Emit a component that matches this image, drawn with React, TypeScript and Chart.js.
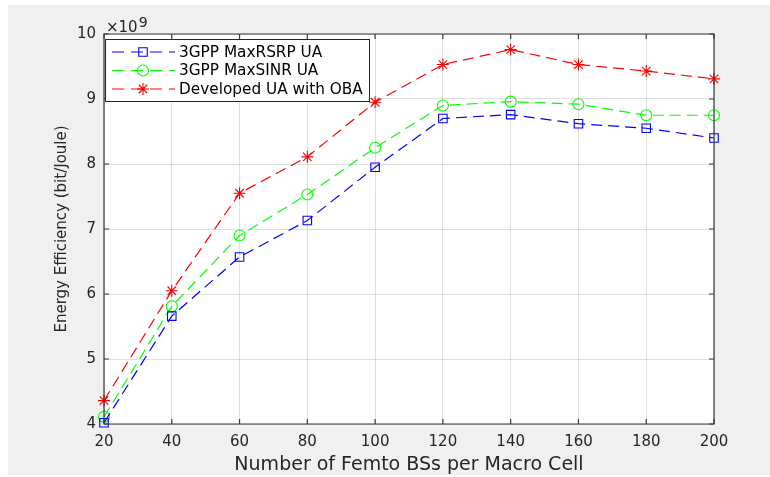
import React, { useEffect, useRef } from 'react';
import { Chart, registerables } from 'chart.js';

Chart.register(...registerables);

// ---- data (values in units of 10^9 bit/Joule) ----
const femtoBSs = [20, 40, 60, 80, 100, 120, 140, 160, 180, 200];
const maxRSRP = [4.02, 5.66, 6.57, 7.13, 7.95, 8.70, 8.76, 8.62, 8.55, 8.40];
const maxSINR = [4.11, 5.81, 6.90, 7.53, 8.25, 8.90, 8.96, 8.92, 8.75, 8.75];
const developedOBA = [4.36, 6.05, 7.55, 8.11, 8.95, 9.53, 9.76, 9.53, 9.43, 9.31];
const seriesLabels = ['3GPP MaxRSRP UA', '3GPP MaxSINR UA', 'Developed UA with OBA'];
const xTitle = 'Number of Femto BSs per Macro Cell';
const yTitle = 'Energy Efficiency (bit/Joule)';
const exponentBase = '\u00d710';
const exponentPower = '9';

const FONT = '"DejaVu Sans", "Liberation Sans", sans-serif';
const TEXT = '#262626';

function drawMarker(ctx: CanvasRenderingContext2D, style: string, x: number, y: number, r: number, color: string) {
  ctx.save();
  ctx.setLineDash([]);
  ctx.strokeStyle = color;
  ctx.lineWidth = 1.1;
  ctx.beginPath();
  if (style === 'rect') {
    const s = Math.SQRT1_2 * r;
    ctx.rect(x - s, y - s, 2 * s, 2 * s);
  } else if (style === 'circle') {
    ctx.arc(x, y, r, 0, Math.PI * 2);
  } else {
    for (let i = 0; i < 4; i++) {
      const a = (i * Math.PI) / 4;
      ctx.moveTo(x - Math.cos(a) * r, y - Math.sin(a) * r);
      ctx.lineTo(x + Math.cos(a) * r, y + Math.sin(a) * r);
    }
  }
  ctx.stroke();
  ctx.restore();
}

const bgPlugin = {
  id: 'bg',
  beforeDraw(chart: any) {
    const { ctx, chartArea } = chart;
    ctx.save();
    ctx.fillStyle = '#ffffff';
    ctx.fillRect(0, 0, chart.width, chart.height);
    ctx.fillStyle = '#f0f0f0';
    ctx.fillRect(8, 5, 762, 470);
    ctx.fillStyle = '#ffffff';
    ctx.fillRect(chartArea.left, chartArea.top, chartArea.right - chartArea.left, chartArea.bottom - chartArea.top);
    ctx.restore();
  },
};

const framePlugin = {
  id: 'frame',
  afterDraw(chart: any) {
    const { ctx, chartArea } = chart;
    const { left, right, top, bottom } = chartArea;
    const xs = chart.scales.x;
    const ys = chart.scales.y;
    ctx.save();
    ctx.strokeStyle = '#3a3a3a';
    ctx.lineWidth = 1.2;
    ctx.setLineDash([]);
    ctx.beginPath();
    ctx.rect(left, top, right - left, bottom - top);
    ctx.stroke();
    const tl = 5;
    ctx.beginPath();
    xs.ticks.forEach((t: any) => {
      const px = xs.getPixelForValue(t.value);
      ctx.moveTo(px, bottom);
      ctx.lineTo(px, bottom - tl);
      ctx.moveTo(px, top);
      ctx.lineTo(px, top + tl);
    });
    ys.ticks.forEach((t: any) => {
      const py = ys.getPixelForValue(t.value);
      ctx.moveTo(left, py);
      ctx.lineTo(left + tl, py);
      ctx.moveTo(right, py);
      ctx.lineTo(right - tl, py);
    });
    ctx.stroke();

    // exponent label
    ctx.fillStyle = TEXT;
    ctx.textBaseline = 'alphabetic';
    ctx.textAlign = 'left';
    ctx.font = `15px ${FONT}`;
    ctx.fillText(exponentBase, left + 2, top - 2);
    const w = ctx.measureText(exponentBase).width;
    ctx.font = `14px ${FONT}`;
    ctx.fillText(exponentPower, left + 3 + w, top - 7);
    ctx.restore();
  },
};

const legendPlugin = {
  id: 'insideLegend',
  afterDraw(chart: any) {
    const { ctx, chartArea } = chart;
    const x0 = chartArea.left + 1;
    const y0 = chartArea.top + 5;
    const w = 264;
    const h = 62;
    ctx.save();
    ctx.fillStyle = '#ffffff';
    ctx.fillRect(x0, y0, w, h);
    ctx.strokeStyle = '#262626';
    ctx.lineWidth = 1;
    ctx.strokeRect(x0 + 0.5, y0 + 0.5, w, h);
    ctx.font = `15.3px ${FONT}`;
    ctx.textBaseline = 'middle';
    ctx.textAlign = 'left';
    chart.data.datasets.forEach((ds: any, i: number) => {
      const cy = y0 + 13 + i * 18.5;
      ctx.strokeStyle = ds.borderColor;
      ctx.lineWidth = 1.2;
      ctx.setLineDash([12, 7]);
      ctx.beginPath();
      ctx.moveTo(x0 + 7, cy);
      ctx.lineTo(x0 + 70, cy);
      ctx.stroke();
      drawMarker(ctx, ds.pointStyle, x0 + 38, cy, ds.pointRadius, ds.borderColor);
      ctx.fillStyle = '#000000';
      ctx.fillText(ds.label, x0 + 74, cy + 1);
    });
    ctx.restore();
  },
};

function makeSeries(label: string, values: number[], color: string, style: string, radius: number) {
  return {
    label,
    data: femtoBSs.map((x, i) => ({ x, y: values[i] })),
    borderColor: color,
    backgroundColor: 'rgba(0,0,0,0)',
    borderWidth: 1.2,
    borderDash: [11, 6],
    pointStyle: style,
    pointRadius: radius,
    pointBorderWidth: 1.1,
    pointBorderColor: color,
    pointBackgroundColor: 'rgba(0,0,0,0)',
    tension: 0,
    fill: false,
    clip: false,
  };
}

export default function App() {
  const ref = useRef<HTMLCanvasElement>(null);
  useEffect(() => {
    const chart = new Chart(ref.current as HTMLCanvasElement, {
      type: 'line',
      data: {
        datasets: [
          makeSeries(seriesLabels[0], maxRSRP, '#0000ff', 'rect', 6),
          makeSeries(seriesLabels[1], maxSINR, '#00ff00', 'circle', 5.5),
          makeSeries(seriesLabels[2], developedOBA, '#ff0000', 'star', 6),
        ] as any,
      },
      options: {
        responsive: false,
        animation: false,
        layout: { padding: { left: 0, top: 34, right: 56, bottom: 0 } },
        plugins: { legend: { display: false }, tooltip: { enabled: false } },
        scales: {
          x: {
            type: 'linear',
            min: 20,
            max: 200,
            afterFit: (s: any) => { s.height = 53; },
            ticks: { stepSize: 20, color: TEXT, font: { family: FONT, size: 15 }, padding: 9, maxRotation: 0 },
            grid: { color: 'rgba(38,38,38,0.15)', drawTicks: false, lineWidth: 1 },
            border: { display: false },
            title: { display: true, text: xTitle, color: TEXT, font: { family: FONT, size: 19 }, padding: { top: 0, bottom: 1 } },
          },
          y: {
            type: 'linear',
            min: 4,
            max: 10,
            afterFit: (s: any) => { s.width = 104; },
            ticks: { stepSize: 1, color: TEXT, font: { family: FONT, size: 15 }, padding: 8 },
            grid: { color: 'rgba(38,38,38,0.15)', drawTicks: false, lineWidth: 1 },
            border: { display: false },
            title: { display: true, text: yTitle, color: TEXT, font: { family: FONT, size: 15 }, padding: { top: 53, bottom: 0 } },
          },
        },
      } as any,
      plugins: [bgPlugin, framePlugin, legendPlugin],
    });
    return () => chart.destroy();
  }, []);
  return (
    <canvas
      ref={ref}
      width={770}
      height={477}
      style={{ position: 'fixed', left: 0, top: 0, width: 770, height: 477 }}
    />
  );
}
